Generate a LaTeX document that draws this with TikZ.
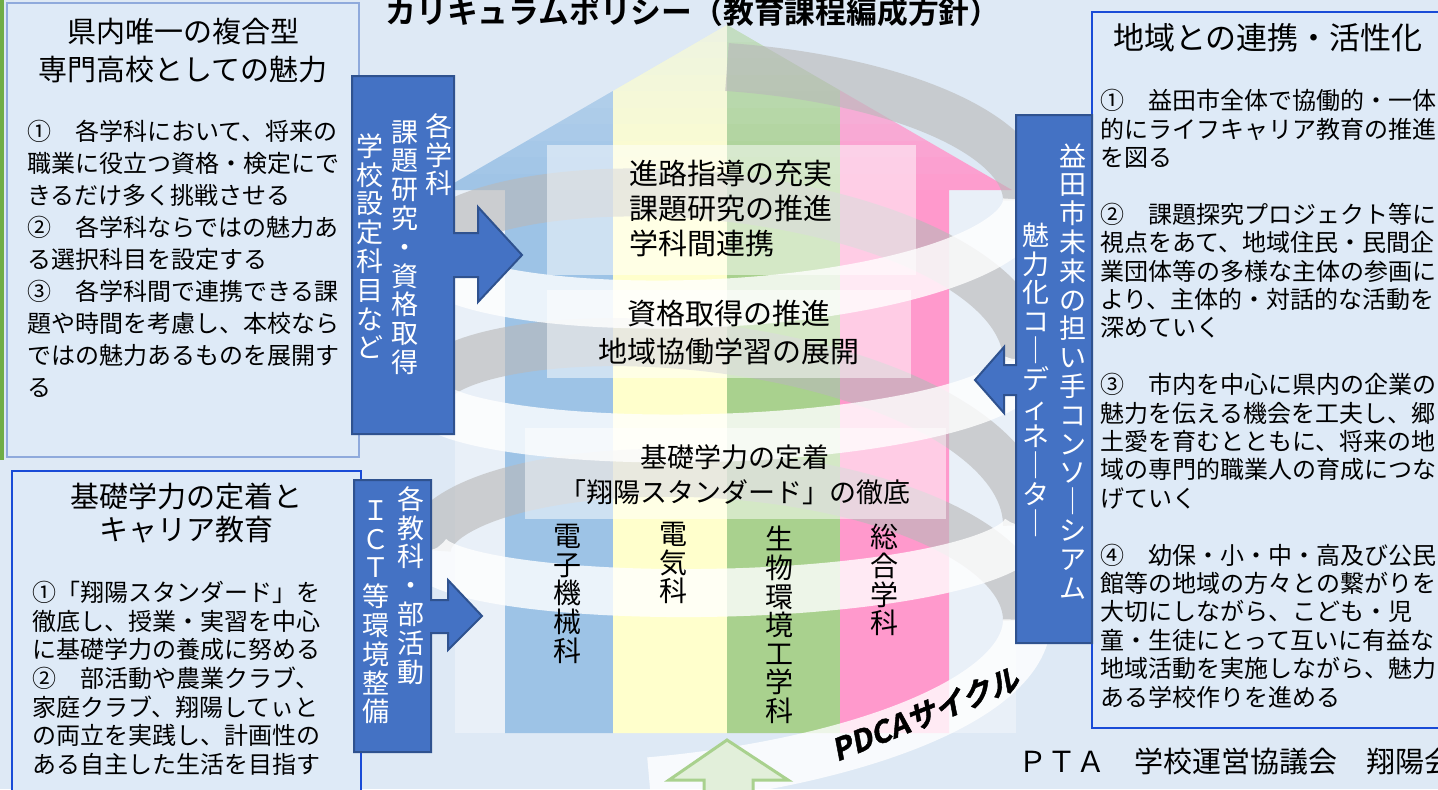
\documentclass[tikz,border=0pt]{standalone}
\usepackage{fontspec}
\setmainfont{Noto Sans CJK JP}[BoldFont=Noto Sans CJK JP Bold]
\newfontfamily\cyclefont{Noto Sans CJK JP Bold}[FakeSlant=0.2,FakeBold=1.5]

\definecolor{bgblue}{RGB}{222,233,245}
\definecolor{panelfill}{RGB}{222,234,247}
\definecolor{framelight}{RGB}{143,170,220}
\definecolor{framedark}{RGB}{25,75,215}
\definecolor{stripeblue}{RGB}{157,195,230}
\definecolor{stripeyellow}{RGB}{255,255,204}
\definecolor{stripegreen}{RGB}{169,209,142}
\definecolor{stripepink}{RGB}{255,153,204}
\definecolor{arrowblue}{RGB}{68,114,196}
\definecolor{arrowedge}{RGB}{47,82,143}
\definecolor{leafgreen}{RGB}{112,173,71}
\definecolor{palegreen}{RGB}{226,239,218}
\definecolor{bandgray}{RGB}{185,185,185}

\newcommand\coilpart[6]{%
  \draw[#1] plot[domain=#2:#3, samples=60, smooth]
    ({727+300*cos(\x)},{#4+(#5-#4)/(#3-#2)*(\x-#2)+#6*sin(\x)});}

\tikzset{
  backband/.style={line width=24pt, draw=bandgray, draw opacity=0.62},
  frontband/.style={line width=24pt, draw=white, draw opacity=0.8},
  veil/.style={fill=white, fill opacity=0.5},
  bluearrow/.style={fill=arrowblue, draw=arrowedge, line width=1pt},
  headtext/.style={font=\fontsize{14.5}{19}\selectfont, align=center, inner sep=0},
  bodytext/.style={font=\fontsize{12}{16}\selectfont, align=left, anchor=north west, inner sep=0},
  vcol/.style={font=\fontsize{13.5}{14.4}\selectfont, align=center, anchor=north, inner sep=0, text=white},
  course/.style={font=\fontsize{14}{14.3}\selectfont, align=center, anchor=north, inner sep=0}
}

\begin{document}
\begin{tikzpicture}[x=0.5pt, y=-0.5pt]
  \useasboundingbox (0,0) rectangle (1438,789);
  % Background
  \fill[bgblue] (0,0) rectangle (1438,789);
  \fill[leafgreen] (0,0) rectangle (4,460);

  % Light columns beside the arrow
  \fill[white, opacity=0.35] (455,190) rectangle (505,733);
  \fill[white, opacity=0.35] (949,190) rectangle (1016,733);

  % Big arrow with four course stripes
  \begin{scope}
    \clip (442,190) -- (727,25) -- (1012,190) -- (949,190) -- (949,733)
      -- (505,733) -- (505,190) -- cycle;
    \fill[stripeblue] (400,0) rectangle (613,740);
    \fill[stripeyellow] (613,0) rectangle (727,740);
    \fill[stripegreen] (727,0) rectangle (840,740);
    \fill[stripepink] (840,0) rectangle (1020,740);
    \foreach \k [evaluate=\k as \fadeop using 0.5-0.05*\k] in {0,...,9}
      \fill[bgblue, opacity=\fadeop] (400,{25+16.5*\k}) rectangle (1020,{25+16.5*(\k+1)});
  \end{scope}

  % Spiral: back half gray, front half white
  \coilpart{backband}{270}{360}{167}{200}{100}
  \coilpart{backband}{180}{360}{255}{360}{110}
  \coilpart{backband}{180}{360}{395}{525}{110}
  \coilpart{backband}{180}{360}{550}{620}{110}
  \coilpart{frontband}{0}{180}{200}{255}{75}
  \coilpart{frontband}{0}{180}{360}{395}{60}
  \coilpart{frontband}{0}{180}{525}{550}{55}
  \coilpart{frontband}{0}{105}{620}{704}{80}

  % Policy boxes on the arrow
  \fill[veil] (547,145) rectangle (916,275);
  \fill[veil] (547,290) rectangle (911,378);
  \fill[veil] (525,428) rectangle (946,519);
  \node[headtext, align=left, font=\fontsize{14.5}{17.5}\selectfont] (careerpolicy) at (731,208)
    {進路指導の充実\\課題研究の推進\\学科間連携};
  \node[headtext] (licensepolicy) at (729,333) {資格取得の推進\\地域協働学習の展開};
  \node[headtext, font=\fontsize{13.5}{17.5}\selectfont] (basicpolicy) at (735,475)
    {基礎学力の定着\\「翔陽スタンダード」の徹底};

  % Course names
  \node[course] (mechlabel) at (567,524) {電\\子\\機\\械\\科};
  \node[course] (eleclabel) at (673,522) {電\\気\\科};
  \node[course] (biolabel) at (779,526) {生\\物\\環\\境\\工\\学\\科};
  \node[course] (genlabel) at (884,524) {総\\合\\学\\科};

  % Arrow from below
  \filldraw[fill=palegreen, draw=stripegreen, line width=1.5pt] (727,740) -- (788,780) -- (753,780)
    -- (753,800) -- (704,800) -- (704,780) -- (669,780) -- cycle;

  % Left panels
  \draw[framelight, line width=1pt, fill=panelfill] (7,3) rectangle (359,457);
  \node[headtext] (strengthtitle) at (183,51) {県内唯一の複合型\\専門高校としての魅力};
  \node[bodytext] (strengthbody) at (27,120)
    {①　各学科において、将来の\\職業に役立つ資格・検定にで\\きるだけ多く挑戦させる\\②　各学科ならではの魅力あ\\る選択科目を設定する\\③　各学科間で連携できる課\\題や時間を考慮し、本校なら\\ではの魅力あるものを展開す\\る};

  \draw[framedark, line width=1pt, fill=panelfill] (12,471) rectangle (361,800);
  \node[headtext, font=\fontsize{14.5}{16.5}\selectfont] (basictitle) at (186,513) {基礎学力の定着と\\キャリア教育};
  \node[bodytext, font=\fontsize{12}{14.3}\selectfont] (basicbody) at (32,581)
    {①「翔陽スタンダード」を\\徹底し、授業・実習を中心\\に基礎学力の養成に努める\\②　部活動や農業クラブ、\\家庭クラブ、翔陽してぃと\\の両立を実践し、計画性の\\ある自主した生活を目指す};

  % Right panel
  \draw[framedark, line width=1.25pt, fill=panelfill] (1092,12) rectangle (1460,728);
  \node[headtext, font=\fontsize{15.5}{16}\selectfont] (regiontitle) at (1268,38) {地域との連携・活性化};
  \node[bodytext, font=\fontsize{12}{14.2}\selectfont] (regionbody) at (1100,89)
    {①　益田市全体で協働的・一体\\的にライフキャリア教育の推進\\を図る\\[14.2pt]②　課題探究プロジェクト等に\\視点をあて、地域住民・民間企\\業団体等の多様な主体の参画に\\より、主体的・対話的な活動を\\深めていく\\[14.2pt]③　市内を中心に県内の企業の\\魅力を伝える機会を工夫し、郷\\土愛を育むとともに、将来の地\\域の専門的職業人の育成につな\\げていく\\[14.2pt]④　幼保・小・中・高及び公民\\館等の地域の方々との繋がりを\\大切にしながら、こども・児\\童・生徒にとって互いに有益な\\地域活動を実施しながら、魅力\\ある学校作りを進める};

  % Blue block arrows
  \filldraw[bluearrow] (352,76) -- (454,76) -- (454,233) -- (478,233) -- (478,207) -- (522,255)
    -- (478,302) -- (478,277) -- (454,277) -- (454,434) -- (352,434) -- cycle;
  \node[vcol] (subjcol) at (439,113) {各\\学\\科};
  \node[vcol] (researchcol) at (405,120) {課\\題\\研\\究\\・\\資\\格\\取\\得};
  \node[vcol] (electivecol) at (370,133) {学\\校\\設\\定\\科\\目\\な\\ど};

  \filldraw[bluearrow] (354,480) -- (431,480) -- (431,600) -- (448,600) -- (448,580) -- (482,616)
    -- (448,650) -- (448,633) -- (431,633) -- (431,752) -- (354,752) -- cycle;
  \node[vcol] (clubcol) at (411,486) {各\\教\\科\\・\\部\\活\\動};
  \node[vcol] (ictcol) at (376,500) {Ｉ\\Ｃ\\Ｔ\\等\\環\\境\\整\\備};

  \filldraw[bluearrow] (1016,115) -- (1092,115) -- (1092,643) -- (1016,643) -- (1016,395)
    -- (1004,395) -- (1004,413) -- (975,380) -- (1004,347) -- (1004,365) -- (1016,365) -- cycle;
  \node[vcol] (consortcol) at (1073,143) {益\\田\\市\\未\\来\\の\\担\\い\\手\\コ\\ン\\ソ\\｜\\シ\\ア\\ム};
  \node[vcol] (coordcol) at (1036,222) {魅\\力\\化\\コ\\｜\\デ\\ィ\\ネ\\｜\\タ\\｜};

  % Title and other labels
  \node[font=\bfseries\fontsize{15.4}{16}\selectfont, inner sep=0] (policytitle) at (693,12)
    {カリキュラムポリシー（教育課程編成方針）};
  \node[anchor=west, font=\fontsize{14.5}{16}\selectfont, inner sep=0] (supporters) at (1018,762)
    {ＰＴＡ　学校運営協議会　翔陽会};
  \node[rotate=22, font=\cyclefont\fontsize{15}{15}\selectfont, inner sep=0] (pdca) at (925,714)
    {PDCAサイクル};
\end{tikzpicture}
\end{document}
